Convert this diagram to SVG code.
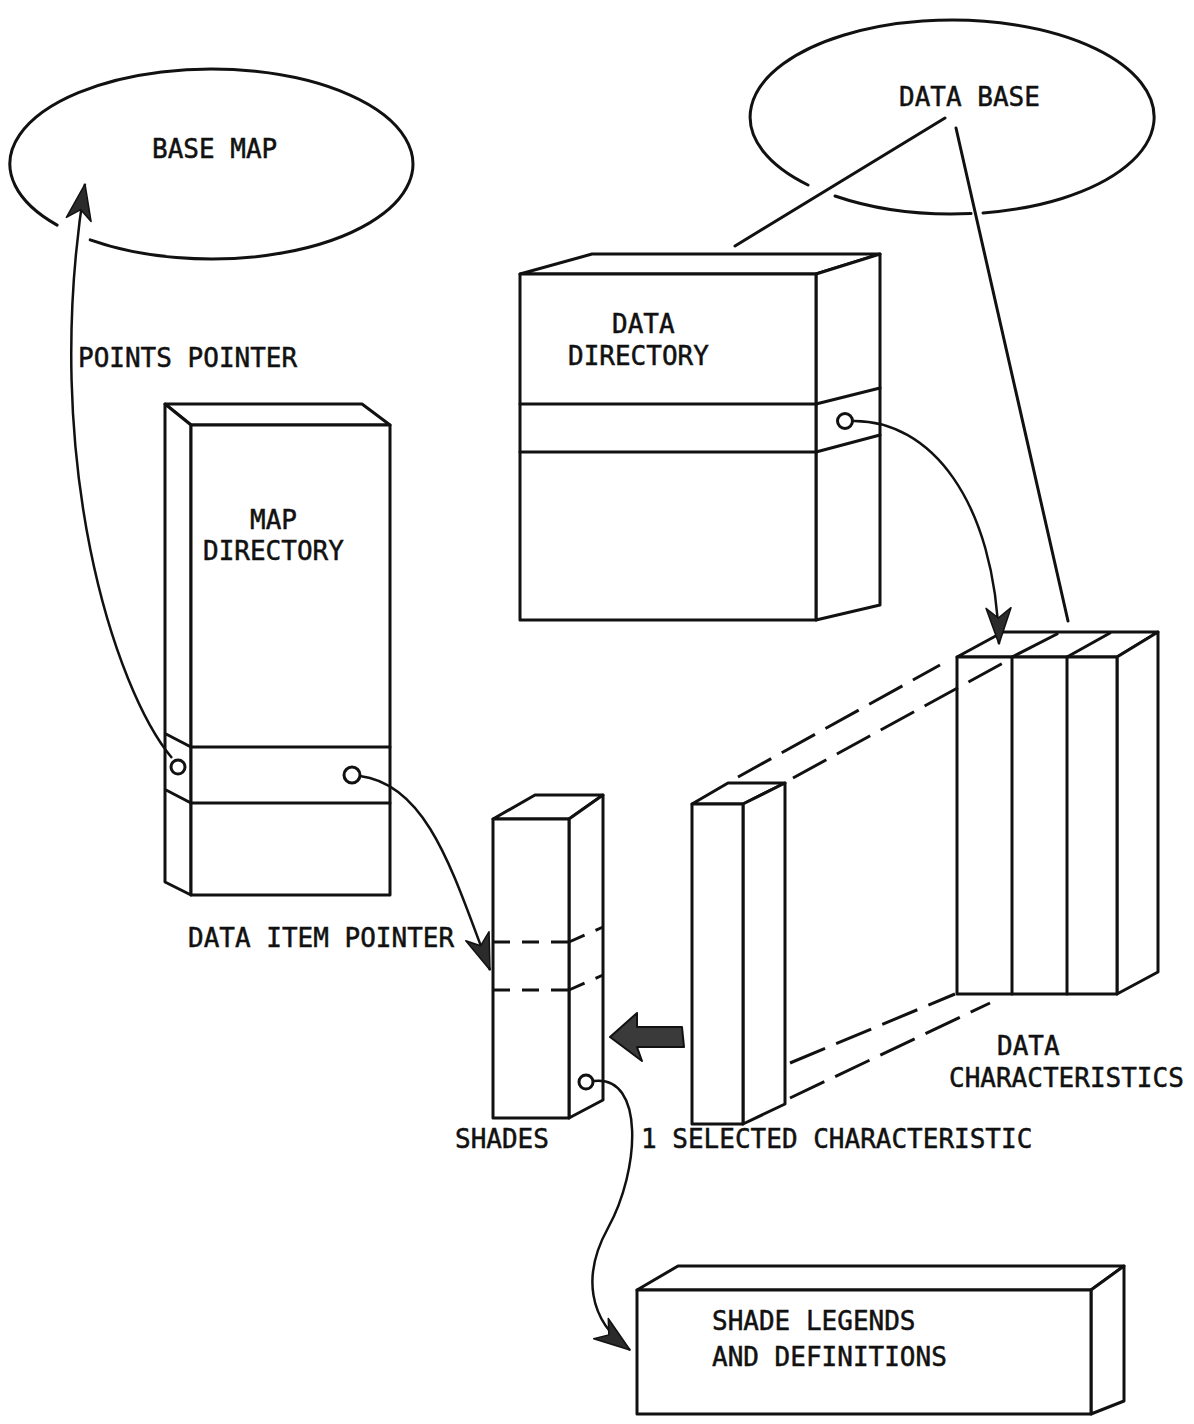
<svg xmlns="http://www.w3.org/2000/svg" width="1194" height="1424" viewBox="0 0 1194 1424">
<style>
.ln{fill:none;stroke:#111;stroke-width:3;stroke-linejoin:round;stroke-linecap:round}
.fc{fill:#fff;stroke:#111;stroke-width:3;stroke-linejoin:round}
.ds{fill:none;stroke:#111;stroke-width:3;stroke-dasharray:38 12}
.dss{fill:none;stroke:#111;stroke-width:3;stroke-dasharray:17 12}
.cw{fill:none;stroke:#111;stroke-width:2.5}
.hole{fill:#fff;stroke:#111;stroke-width:3}
.t{font-family:"DejaVu Sans Mono","Liberation Mono",monospace;font-size:26px;fill:#111;stroke:#111;stroke-width:0.5}
</style>
<defs>
<marker id="ah" markerUnits="userSpaceOnUse" viewBox="-40 -16 42 32" refX="0" refY="0" markerWidth="42" markerHeight="32" orient="auto">
<path d="M0,0 L-36,-13 L-26,0 L-36,12 Z" fill="#2b2b2b" stroke="#111" stroke-width="1.5" stroke-linejoin="round"/>
</marker>
</defs>
<rect width="1194" height="1424" fill="#fff"/>

<g id="base-map">
<path class="ln" d="M90.2,239.9 A201.5,95 0 1 0 57.1,225.1"/>
<text class="t" x="152" y="158">BASE MAP</text>
</g>

<g id="data-base">
<path class="ln" d="M835,196 A202,97 0 0 0 971,213.6"/>
<path class="ln" d="M983,212.9 A202,97 0 1 0 808,185"/>
<text class="t" x="899" y="106">DATA BASE</text>
</g>

<g id="data-directory">
<polygon class="fc" points="520,274 592,254 880,254 816,274"/>
<polygon class="fc" points="816,274 880,254 880,605 816,620"/>
<rect class="fc" x="520" y="274" width="296" height="346"/>
<line class="ln" x1="520" y1="404" x2="816" y2="404"/>
<line class="ln" x1="520" y1="452" x2="816" y2="452"/>
<line class="ln" x1="816" y1="404" x2="880" y2="388"/>
<line class="ln" x1="816" y1="452" x2="880" y2="435"/>
<circle class="hole" cx="845" cy="421" r="7.5"/>
<text class="t" x="612" y="333">DATA</text>
<text class="t" x="568" y="365">DIRECTORY</text>
</g>

<g id="map-directory">
<polygon class="fc" points="165,404 362,404 390,425 191,425"/>
<polygon class="fc" points="165,404 191,425 191,895 165,882"/>
<rect class="fc" x="191" y="425" width="199" height="470"/>
<line class="ln" x1="191" y1="747" x2="390" y2="747"/>
<line class="ln" x1="191" y1="803" x2="390" y2="803"/>
<line class="ln" x1="191" y1="747" x2="166" y2="734"/>
<line class="ln" x1="191" y1="803" x2="166" y2="790"/>
<circle class="hole" cx="178" cy="767" r="7"/>
<circle class="hole" cx="352" cy="775" r="8"/>
<text class="t" x="250" y="529">MAP</text>
<text class="t" x="203" y="560">DIRECTORY</text>
</g>

<g id="shades">
<polygon class="fc" points="493,819 535,795 603,795 569,819"/>
<polygon class="fc" points="569,819 603,795 603,1100 569,1118"/>
<rect class="fc" x="493" y="819" width="76" height="299"/>
<line class="dss" x1="493" y1="942" x2="569" y2="942"/>
<line class="dss" x1="493" y1="990" x2="569" y2="990"/>
<line class="dss" x1="569" y1="942" x2="603" y2="927"/>
<line class="dss" x1="569" y1="990" x2="603" y2="975"/>
<circle class="hole" cx="586" cy="1082" r="7"/>
<text class="t" x="455" y="1148">SHADES</text>
</g>

<g id="selected-characteristic">
<polygon class="fc" points="692,804 728,783 785,783 743,804"/>
<polygon class="fc" points="743,804 785,783 785,1104 743,1124"/>
<rect class="fc" x="692" y="804" width="51" height="320"/>
<text class="t" x="641" y="1148">1 SELECTED CHARACTERISTIC</text>
</g>

<g id="data-characteristics">
<polygon class="fc" points="957,657 1003,632 1158,632 1117,657"/>
<polygon class="fc" points="1117,657 1158,632 1158,972 1117,994"/>
<rect class="fc" x="957" y="657" width="160" height="337"/>
<line class="ln" x1="1012" y1="657" x2="1012" y2="994"/>
<line class="ln" x1="1067" y1="657" x2="1067" y2="994"/>
<line class="ln" x1="1012" y1="657" x2="1057" y2="634"/>
<line class="ln" x1="1067" y1="657" x2="1110" y2="633"/>
<text class="t" x="997" y="1055">DATA</text>
<text class="t" x="949" y="1087">CHARACTERISTICS</text>
</g>

<g id="shade-legends">
<polygon class="fc" points="637,1290 678,1266 1124,1266 1091,1290"/>
<polygon class="fc" points="1091,1290 1124,1266 1124,1401 1091,1414"/>
<rect class="fc" x="637" y="1290" width="454" height="124"/>
<text class="t" x="712" y="1330">SHADE LEGENDS</text>
<text class="t" x="712" y="1366">AND DEFINITIONS</text>
</g>

<g id="connectors">
<line class="ln" x1="945" y1="118" x2="735" y2="246"/>
<line class="ln" x1="956" y1="128" x2="1068" y2="621"/>
<path class="cw" d="M172,758 C115,690 40,460 85,184" marker-end="url(#ah)"/>
<text class="t" x="78" y="367">POINTS POINTER</text>
<path class="cw" d="M360,776 C430,785 455,880 490,970" marker-end="url(#ah)"/>
<text class="t" x="188" y="947">DATA ITEM POINTER</text>
<path class="cw" d="M853,421 C930,420 995,500 999,644" marker-end="url(#ah)"/>
<path class="cw" d="M594,1081 C645,1075 640,1170 608,1228 C582,1275 588,1320 630,1350" marker-end="url(#ah)"/>
<polygon points="610,1037 637,1013 637,1027 682,1027 684,1047 637,1047 642,1061" fill="#3a3a3a" stroke="#111" stroke-width="2" stroke-linejoin="round"/>
<line class="ds" x1="738" y1="777" x2="940" y2="665"/>
<line class="ds" x1="793" y1="778" x2="1005" y2="662"/>
<line class="ds" x1="790" y1="1063" x2="955" y2="994"/>
<line class="ds" x1="790" y1="1098" x2="990" y2="1003"/>
</g>
</svg>
